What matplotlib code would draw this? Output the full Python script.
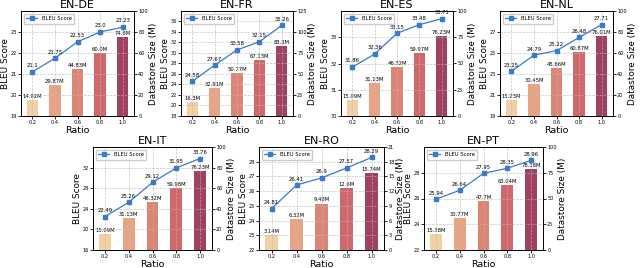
import matplotlib
matplotlib.use("Agg")
import matplotlib.pyplot as plt
import numpy as np

ratios = [0.2, 0.4, 0.6, 0.8, 1.0]
titles = ["EN-DE", "EN-FR", "EN-ES", "EN-NL", "EN-IT", "EN-RO", "EN-PT"]

bleu_de = [21.1, 21.75, 22.53, 23.0, 23.23]
bleu_fr = [24.58, 27.67, 30.58, 32.15, 35.26]
bleu_es = [31.86, 32.36, 33.15, 33.48, 33.71]
bleu_nl = [23.25, 24.79, 25.22, 26.48, 27.71]
bleu_it = [22.49, 25.26, 29.12, 31.95, 33.76]
bleu_ro = [24.81, 26.41, 26.9, 27.57, 28.29]
bleu_pt = [25.94, 26.64, 27.95, 28.35, 28.96]

size_de = [14.92, 29.87, 44.83, 60.0, 74.8]
size_fr = [16.3, 32.91, 50.77, 67.13, 83.3]
size_es = [15.09, 31.13, 46.32, 59.97, 76.23]
size_nl = [15.23, 30.45, 45.66, 60.87, 76.01]
size_it = [15.09, 31.13, 46.32, 59.98, 76.23]
size_ro = [3.14, 6.32, 9.48, 12.6, 15.74]
size_pt = [15.38, 30.77, 47.7, 63.04, 78.38]

size_labels_de = ["14.92M", "29.87M", "44.83M", "60.0M", "74.8M"]
size_labels_fr = ["16.3M", "32.91M", "50.77M", "67.13M", "83.3M"]
size_labels_es = ["15.09M", "31.13M", "46.32M", "59.97M", "76.23M"]
size_labels_nl = ["15.23M", "30.45M", "45.66M", "60.87M", "76.01M"]
size_labels_it = ["15.09M", "31.13M", "46.32M", "59.98M", "76.23M"]
size_labels_ro = ["3.14M", "6.32M", "9.48M", "12.6M", "15.74M"]
size_labels_pt = ["15.38M", "30.77M", "47.7M", "63.04M", "78.38M"]

bleu_labels_de = ["21.1", "21.75", "22.53", "23.0", "23.23"]
bleu_labels_fr = ["24.58", "27.67", "30.58", "32.15", "35.26"]
bleu_labels_es = ["31.86", "32.36", "33.15", "33.48", "33.71"]
bleu_labels_nl = ["23.25", "24.79", "25.22", "26.48", "27.71"]
bleu_labels_it = ["22.49", "25.26", "29.12", "31.95", "33.76"]
bleu_labels_ro = ["24.81", "26.41", "26.9", "27.57", "28.29"]
bleu_labels_pt = ["25.94", "26.64", "27.95", "28.35", "28.96"]

bleu_ylims = [(19, 24), (18, 38), (30, 34), (19, 29), (16, 36), (22, 29), (22, 30)]
bleu_ticks = [[19, 20, 21, 22, 23], [18, 20, 22, 24, 26, 28, 30, 32, 34, 36], [30, 31, 32, 33],
              [19, 21, 23, 25, 27], [16, 20, 24, 28, 32], [22, 23, 24, 25, 26, 27, 28], [22, 24, 26, 28]]
size_ylims = [(0, 100), (0, 125), (0, 100), (0, 100), (0, 100), (0, 21), (0, 100)]
size_ticks = [[0, 20, 40, 60, 80, 100], [0, 25, 50, 75, 100, 125], [0, 25, 50, 75, 100],
              [0, 20, 40, 60, 80, 100], [0, 20, 40, 60, 80, 100], [0, 3, 6, 9, 12, 15, 18, 21],
              [0, 25, 50, 75, 100]]

bleus = [bleu_de, bleu_fr, bleu_es, bleu_nl, bleu_it, bleu_ro, bleu_pt]
sizes = [size_de, size_fr, size_es, size_nl, size_it, size_ro, size_pt]
size_labels = [size_labels_de, size_labels_fr, size_labels_es, size_labels_nl,
               size_labels_it, size_labels_ro, size_labels_pt]
bleu_labels = [bleu_labels_de, bleu_labels_fr, bleu_labels_es, bleu_labels_nl,
               bleu_labels_it, bleu_labels_ro, bleu_labels_pt]

bar_colors = ["#f2d0a6", "#e8a384", "#dd8574", "#d0676c", "#a1405f"]
line_color = "#3a7bc8"

W, H = 640, 268
fig = plt.figure(figsize=(6.4, 2.68), dpi=100)

# pixel boxes (left, right, top, bottom)
boxes = [(21, 134, 11, 116), (181, 293, 11, 116), (341, 453, 11, 116), (500, 613, 11, 116),
         (93, 212, 147, 250), (259, 384, 147, 250), (424, 543, 147, 250)]

TICK = 3.6
ANN = 3.8
LAB = 6.4

for i in range(7):
    l, r, t, b = boxes[i]
    ax = fig.add_axes([l / W, 1 - b / H, (r - l) / W, (b - t) / H])
    ax2 = ax.twinx()
    ax.set_zorder(ax2.get_zorder() + 1)
    ax.patch.set_visible(False)

    ax2.bar(ratios, sizes[i], width=0.1, color=bar_colors, zorder=2)
    ax2.set_ylim(*size_ylims[i])
    ax2.set_yticks(size_ticks[i])
    ax2.tick_params(axis="y", labelsize=TICK, length=2, pad=1, width=0.6)
    ax2.set_ylabel("Datastore Size (M)", fontsize=LAB, labelpad=1)
    for x, v, s in zip(ratios, sizes[i], size_labels[i]):
        ax2.text(x, v + size_ylims[i][1] * 0.01, s, ha="center", va="bottom",
                 fontsize=ANN, zorder=3)

    ax.plot(ratios, bleus[i], marker="s", markersize=2.6, color=line_color, linewidth=0.9,
            label="BLEU Score", zorder=4)
    rng = bleu_ylims[i][1] - bleu_ylims[i][0]
    for x, v, s in zip(ratios, bleus[i], bleu_labels[i]):
        ax.text(x, v + rng * 0.035, s, ha="center", va="bottom", fontsize=ANN, zorder=5)
    ax.set_ylim(*bleu_ylims[i])
    ax.set_yticks(bleu_ticks[i])
    ax.set_xlim(0.1, 1.1)
    ax.set_xticks(ratios)
    ax.set_xticklabels([str(x) for x in ratios])
    ax.tick_params(axis="both", labelsize=TICK, length=2, pad=1, width=0.6)
    ax.grid(True, linestyle="--", color="#b8b8b8", linewidth=0.5, alpha=0.8)
    ax.set_axisbelow(True)
    ax.set_ylabel("BLEU Score", fontsize=LAB, labelpad=0.5)
    ax.set_xlabel("Ratio", fontsize=LAB + 0.4, labelpad=0.5)
    ax.set_title(titles[i], fontsize=8, pad=2)
    ax.legend(loc="upper left", fontsize=3.8, handlelength=2.1, borderpad=0.5,
              frameon=True, framealpha=1, edgecolor="#cccccc", fancybox=True)
    for sp in list(ax.spines.values()) + list(ax2.spines.values()):
        sp.set_linewidth(0.6)

fig.savefig("out.png", dpi=100)
